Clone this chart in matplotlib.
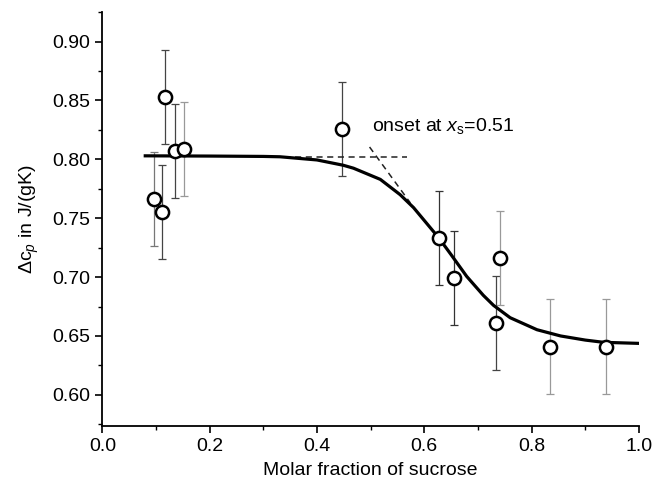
import numpy as np
import matplotlib
matplotlib.use("Agg")
import matplotlib.pyplot as plt
from matplotlib.ticker import MultipleLocator

plt.rcParams['font.family'] = ['Liberation Sans', 'DejaVu Sans']
plt.rcParams['mathtext.fontset'] = 'custom'
plt.rcParams['mathtext.rm'] = 'Liberation Sans'
plt.rcParams['mathtext.it'] = 'Liberation Sans:italic'

# measured points (molar fraction of sucrose, delta cp)
x_data = [0.096, 0.112, 0.116, 0.136, 0.152, 0.447, 0.627, 0.655, 0.734, 0.742, 0.835, 0.939]
y_data = [0.766, 0.755, 0.853, 0.807, 0.809, 0.826, 0.733, 0.699, 0.661, 0.716, 0.641, 0.641]
y_err = [0.04] * 12
err_colors = ['#777777', '#444444', '#444444', '#444444', '#999999', '#444444',
              '#333333', '#333333', '#444444', '#999999', '#999999', '#999999']

# fitted curve
x_fit = [0.080, 0.20, 0.30, 0.331, 0.40, 0.449, 0.468, 0.518, 0.555, 0.580,
         0.627, 0.650, 0.679, 0.710, 0.729, 0.760, 0.810, 0.854, 0.900, 0.934, 1.0]
y_fit = [0.803, 0.8028, 0.8025, 0.8022, 0.7995, 0.795, 0.7925, 0.783, 0.770, 0.759,
         0.7333, 0.719, 0.7006, 0.6845, 0.676, 0.6655, 0.6553, 0.6500, 0.6465, 0.6446, 0.6437]

# onset construction (dashed)
plateau_x = [0.30, 0.568]
plateau_y = [0.8023, 0.8023]
tangent_x = [0.498, 0.574]
tangent_y = [0.8105, 0.763]

fig = plt.figure(figsize=(6.56, 4.88), dpi=100)
ax = fig.add_axes([0.156, 0.127, 0.818, 0.848])

ax.plot(plateau_x, plateau_y, color='#222222', lw=1.1, ls=(0, (4, 3)), zorder=2)
ax.plot(tangent_x, tangent_y, color='#222222', lw=1.1, ls=(0, (4, 3)), zorder=2)
ax.plot(x_fit, y_fit, color='black', lw=2.3, zorder=3)

for xi, yi, ei, c in zip(x_data, y_data, y_err, err_colors):
    ax.errorbar(xi, yi, yerr=ei, fmt='none', ecolor=c, elinewidth=0.9,
                capsize=3, capthick=0.9, zorder=1)
ax.plot(x_data, y_data, 'o', mfc='white', mec='black', ms=9.5, mew=1.8, zorder=4)

ax.text(0.502, 0.8285, r'onset at $x_{\mathrm{s}}$=0.51', fontsize=14, va='center', ha='left')

ax.set_xlim(0.0, 1.0)
ax.set_ylim(0.5735, 0.925)
ax.xaxis.set_major_locator(MultipleLocator(0.2))
ax.xaxis.set_minor_locator(MultipleLocator(0.1))
ax.yaxis.set_major_locator(MultipleLocator(0.05))
ax.yaxis.set_minor_locator(MultipleLocator(0.025))
ax.xaxis.set_major_formatter(matplotlib.ticker.FormatStrFormatter('%.1f'))
ax.yaxis.set_major_formatter(matplotlib.ticker.FormatStrFormatter('%.2f'))
ax.tick_params(which='major', direction='out', length=5, width=1.2, labelsize=14)
ax.tick_params(which='minor', direction='out', length=3, width=1.0)
ax.spines['top'].set_visible(False)
ax.spines['right'].set_visible(False)
ax.spines['left'].set_linewidth(1.3)
ax.spines['bottom'].set_linewidth(1.3)

ax.set_xlabel('Molar fraction of sucrose', fontsize=14, labelpad=5)
ax.set_ylabel(r'$\Delta\mathrm{c}_{p}$ in J/(gK)', fontsize=14, labelpad=8)

fig.savefig('out.png', dpi=100)
